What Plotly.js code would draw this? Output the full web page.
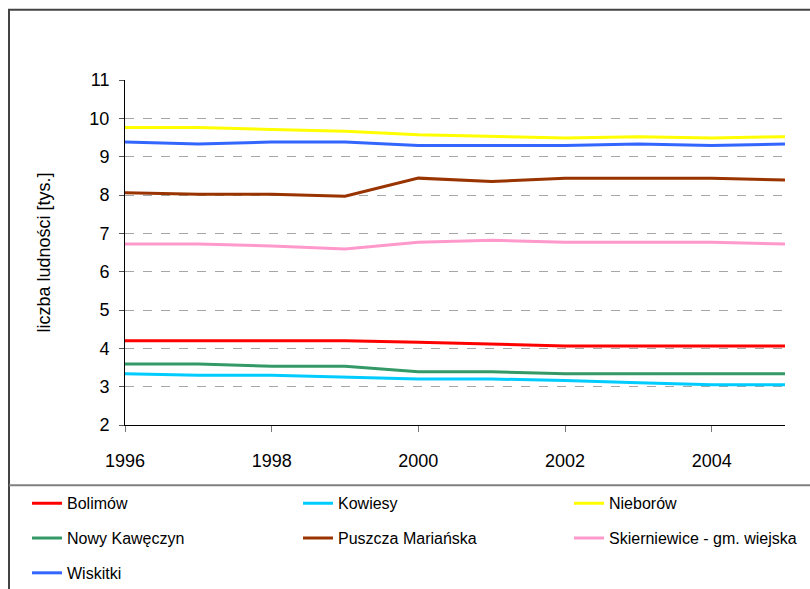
<!DOCTYPE html>
<html>
<head>
<meta charset="utf-8">
<script src="https://cdn.plot.ly/plotly-3.0.1.min.js"></script>
<style>html,body{margin:0;padding:0;background:#fff;}#chart{width:810px;height:589px;}</style>
</head>
<body>
<div id="chart"></div>
<script>
var years = [1996, 1997, 1998, 1999, 2000, 2001, 2002, 2003, 2004, 2005];
var xTickVals = [1996, 1998, 2000, 2002, 2004];
var yTickVals = [2, 3, 4, 5, 6, 7, 8, 9, 10, 11];

var bolimow    = [4.20, 4.20, 4.20, 4.20, 4.16, 4.11, 4.06, 4.06, 4.06, 4.06];
var kowiesy    = [3.34, 3.30, 3.30, 3.25, 3.20, 3.20, 3.16, 3.10, 3.05, 3.05];
var nieborow   = [9.76, 9.76, 9.71, 9.66, 9.57, 9.53, 9.49, 9.52, 9.49, 9.52];
var nowyKaw    = [3.59, 3.59, 3.53, 3.53, 3.39, 3.39, 3.34, 3.34, 3.34, 3.34];
var puszcza    = [8.06, 8.02, 8.02, 7.97, 8.44, 8.35, 8.44, 8.44, 8.44, 8.39];
var skierniew  = [6.72, 6.72, 6.67, 6.59, 6.77, 6.82, 6.77, 6.77, 6.77, 6.72];
var wiskitki   = [9.38, 9.33, 9.38, 9.38, 9.29, 9.29, 9.29, 9.33, 9.29, 9.33];

var names = ['Bolimów', 'Kowiesy', 'Nieborów', 'Nowy Kawęczyn', 'Puszcza Mariańska', 'Skierniewice - gm. wiejska', 'Wiskitki'];
var series = [bolimow, kowiesy, nieborow, nowyKaw, puszcza, skierniew, wiskitki];
var colors = ['#FF0000', '#00CCFF', '#FFFF00', '#339966', '#993300', '#FF99CC', '#3366FF'];
var legendFor = ['legend', 'legend2', 'legend3', 'legend', 'legend2', 'legend3', 'legend'];

var FONT = '"Liberation Sans", Arial, sans-serif';

var traces = names.map(function (n, i) {
  return {
    type: 'scatter', mode: 'lines', name: n,
    x: years, y: series[i],
    line: {color: colors[i], width: 3},
    legend: legendFor[i], legendgroup: 'g' + i,
    hoverinfo: 'x+y+name'
  };
});

var W = 810, H = 589, L = 125, R = 25, T = 79.5, B = 163.5;
var pw = W - L - R, ph = H - T - B;
function px(x) { return (x - L) / pw; }
function py(y) { return (H - B - y) / ph; }

var legendCommon = {
  orientation: 'v', xref: 'paper', yref: 'paper',
  xanchor: 'left', yanchor: 'top', y: py(487),
  bgcolor: 'rgba(0,0,0,0)', borderwidth: 0,
  font: {family: FONT, size: 16, color: '#000'},
  tracegroupgap: 11, itemclick: false, itemdoubleclick: false
};

var layout = {
  width: W, height: H,
  margin: {l: L, r: R, t: T, b: B, pad: 0, autoexpand: false},
  paper_bgcolor: '#fff', plot_bgcolor: '#fff',
  font: {family: FONT, size: 18, color: '#000'},
  showlegend: true,
  legend: Object.assign({}, legendCommon, {x: px(27)}),
  legend2: Object.assign({}, legendCommon, {x: px(298)}),
  legend3: Object.assign({}, legendCommon, {x: px(569)}),
  xaxis: {
    range: [1996, 2005], tickmode: 'array', tickvals: xTickVals,
    showgrid: false, zeroline: false, automargin: false, tickangle: 0,
    showline: true, linecolor: '#000', linewidth: 1,
    ticks: 'outside', ticklen: 6, tickcolor: '#777', tickwidth: 1,
    ticklabelstandoff: 13,
    tickfont: {family: FONT, size: 18, color: '#000'}
  },
  yaxis: {
    range: [2, 11], tickmode: 'array', tickvals: yTickVals,
    showgrid: true, gridcolor: '#a6a6a6', griddash: 'dash', gridwidth: 1,
    zeroline: false, automargin: false,
    showline: true, linecolor: '#000', linewidth: 1,
    ticks: 'outside', ticklen: 5, tickcolor: '#555', tickwidth: 1,
    ticklabelstandoff: 6,
    tickfont: {family: FONT, size: 18, color: '#000'},
    title: {text: 'liczba ludności [tys.]', font: {family: FONT, size: 18, color: '#000'}, standoff: 34}
  },
  shapes: [
    {type: 'rect', xref: 'paper', yref: 'paper', x0: px(9), x1: px(830), y0: py(610), y1: py(9),
     line: {color: '#444', width: 2}, fillcolor: 'rgba(0,0,0,0)', layer: 'below'},
    {type: 'line', xref: 'paper', yref: 'paper', x0: px(9), x1: px(830), y0: py(486), y1: py(486),
     line: {color: '#808080', width: 2}}
  ]
};

Plotly.newPlot('chart', traces, layout, {displayModeBar: false});
</script>
</body>
</html>
